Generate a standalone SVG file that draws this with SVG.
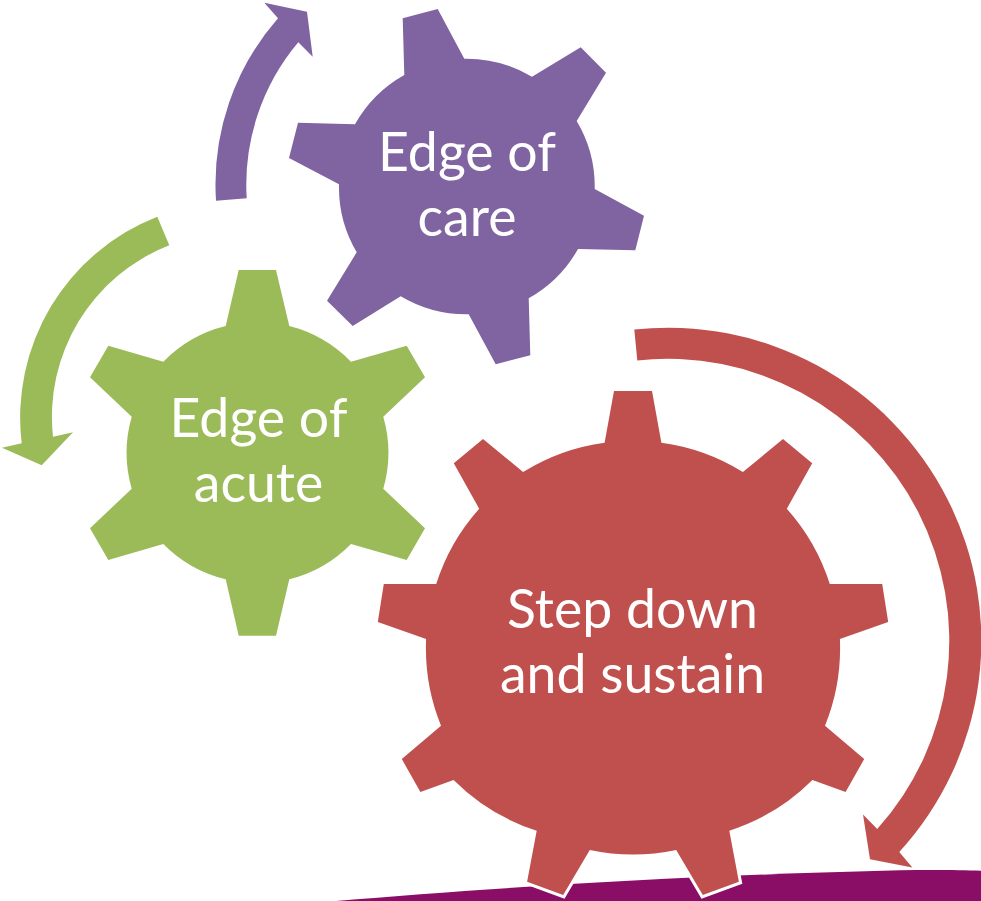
<svg xmlns="http://www.w3.org/2000/svg" width="981" height="901" viewBox="0 0 981 901">
<style>
text{font-family:"Lato","Open Sans","Liberation Sans",sans-serif;font-size:53.600px;fill:#fff;text-anchor:middle}
.p{fill:#8064A2}.g{fill:#9BBB59}.r{fill:#C0504D}
</style>
<rect width="981" height="901" fill="#fff"/>
<path id="band" fill="#8A0E66" d="M336 901C500 887 700 875 900 870.300C930 869.800 960 870 981 870.800V901Z"/>
<g id="connectors">
<path class="p" d="M216 200.700A252 252 0 0 1 278 18.300L264.300 2.700L307 11.700L312.700 56.700L298.300 42.300A221 221 0 0 0 246.700 198.300Z"/>
<path class="g" d="M157.300 216.700A215.500 215.500 0 0 0 21.700 443.300L2 447.700L41.700 465.300L73 432.300L53 436.700A184 184 0 0 1 169.300 245.300Z"/>
<path class="r" d="M634.300 329.600A313 313 0 0 1 899.300 852L912.300 867.500L870 859.300L863 814.500L877.200 829.100A282 282 0 0 0 637.300 360.400Z"/>
</g>
<g id="edge-of-care">
<path class="p" d="M402.700 18.300L437.700 9L464.300 58.700A128 128 0 0 1 532 76.700L580.700 47.300L606 72.700L576.700 121A128 128 0 0 1 594.700 189L644 215.700L635.300 250.300L578 249A128 128 0 0 1 528.700 298.300L530.300 355.300L495.700 364.300L468.700 314.300A128 128 0 0 1 400.700 296.300L352.700 326L327 300.700L356.700 252.300A128 128 0 0 1 339 184.300L289 158L298 122.700L355 124.300A128 128 0 0 1 404.300 75Z"/>
<text x="467" y="171">Edge of</text>
<text x="467" y="236">care</text>
</g>
<g id="edge-of-acute">
<path class="g" d="M238.700 270L276 270L289.300 326A130.500 130.500 0 0 1 351 361.700L406.700 345.700L425 377.300L383.300 416.700A130.500 130.500 0 0 1 383.300 488.700L425 528.300L406.700 560L351 544A130.500 130.500 0 0 1 289.300 579.300L276 635.700L238.700 635.700L225.700 579.300A130.500 130.500 0 0 1 163.300 544L108.300 560L90 528.300L131.700 488.700A130.500 130.500 0 0 1 131.700 416.700L90 377.300L108.300 345.700L163.300 361.700A130.500 130.500 0 0 1 225.700 326Z"/>
<text x="258.500" y="437">Edge of</text>
<text x="258.500" y="501.700">acute</text>
</g>
<g id="step-down-and-sustain">
<path class="r" stroke="#fff" stroke-width="6" paint-order="stroke" stroke-linejoin="miter" d="M614 391L652 391L661.400 442.700A206.600 206.600 0 0 1 742.900 472L783 439L812.200 463.300L786.800 508.700A206.600 206.600 0 0 1 829.800 584L882.200 584L888.200 622L839.900 639A206.600 206.600 0 0 1 825 725.700L864.200 759L845.600 792L812.400 780A206.600 206.600 0 0 1 729.300 830.700L738.900 881.700L702.800 895L676.200 850A206.600 206.600 0 0 1 589.800 850L563.200 895L527.100 881.700L536.700 830.700A206.600 206.600 0 0 1 453.600 780L420.400 792L401.800 759L441 725.700A206.600 206.600 0 0 1 426.100 639L377.800 622L383.800 584L436.200 584A206.600 206.600 0 0 1 479.200 508.700L453.800 463.300L483 439L523.100 472A206.600 206.600 0 0 1 604.600 442.700Z"/>
<text x="632.500" y="627.700">Step down</text>
<text x="632.500" y="692.700">and sustain</text>
</g>
</svg>
